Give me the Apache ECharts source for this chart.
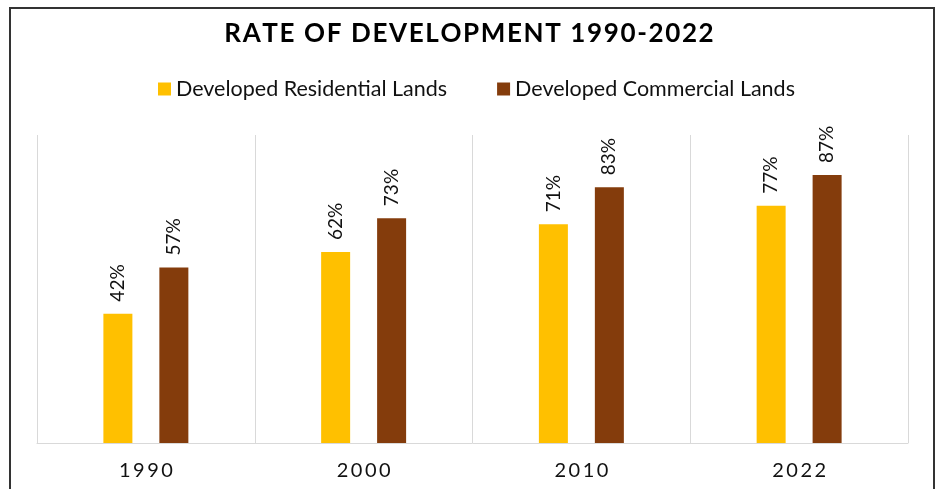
<!DOCTYPE html>
<html>
<head>
<meta charset="utf-8">
<script src="https://cdn.jsdelivr.net/npm/echarts@6/dist/echarts.min.js"></script>
<style>html,body{margin:0;padding:0;background:#fff}#c{width:938px;height:489px}</style>
</head>
<body>
<div id="c"></div>
<script>
var categories = ['1990', '2000', '2010', '2022'];
var residential = [42, 62, 71, 77];
var commercial = [57, 73, 83, 87];
var seriesNames = ['Developed Residential Lands', 'Developed Commercial Lands'];
var titleText = 'RATE OF DEVELOPMENT 1990-2022';
var FONT = 'Lato, "Open Sans", sans-serif';

function spaced(s, sep) { return s.split('').join(sep); }

var chart = echarts.init(document.getElementById('c'));
var labelCfg = {
  show: true, position: 'top', rotate: 90, align: 'left', verticalAlign: 'middle',
  distance: 12, fontFamily: FONT, fontSize: 19, color: '#111',
  formatter: function (p) { return p.value + '%'; }
};
chart.setOption({
  animation: false,
  title: {
    text: spaced(titleText, '\u200A'), left: 'center', top: 16,
    textStyle: { fontFamily: FONT, fontSize: 26, fontWeight: 'bold', color: '#000' }
  },
  legend: {
    top: 73, left: 153, itemWidth: 13, itemHeight: 13, itemGap: 50, icon: 'rect',
    textStyle: { fontFamily: FONT, fontSize: 21.5, color: '#111' },
    data: seriesNames
  },
  graphic: [{
    type: 'rect', shape: { x: 10, y: 8, width: 924, height: 520 },
    style: { fill: 'none', stroke: '#333', lineWidth: 2 }, silent: true
  }],
  grid: { left: 37, right: 30, top: 135, bottom: 46 },
  xAxis: {
    type: 'category', data: categories, boundaryGap: true,
    axisLine: { lineStyle: { color: '#d9d9d9', width: 1 } },
    axisTick: { show: false },
    splitLine: { show: true, lineStyle: { color: '#d9d9d9', width: 1 } },
    axisLabel: {
      margin: 18, fontFamily: FONT, fontSize: 20, color: '#111',
      formatter: function (v) { return spaced(v, '\u2009'); }
    }
  },
  yAxis: { type: 'value', min: 0, max: 100, show: false, splitLine: { show: false } },
  series: [
    { name: seriesNames[0], type: 'bar', data: residential, barWidth: 29, barGap: '93%',
      itemStyle: { color: '#FFC000' }, label: labelCfg },
    { name: seriesNames[1], type: 'bar', data: commercial, barWidth: 29, barGap: '93%',
      itemStyle: { color: '#843C0C' }, label: labelCfg }
  ]
});
</script>
</body>
</html>
